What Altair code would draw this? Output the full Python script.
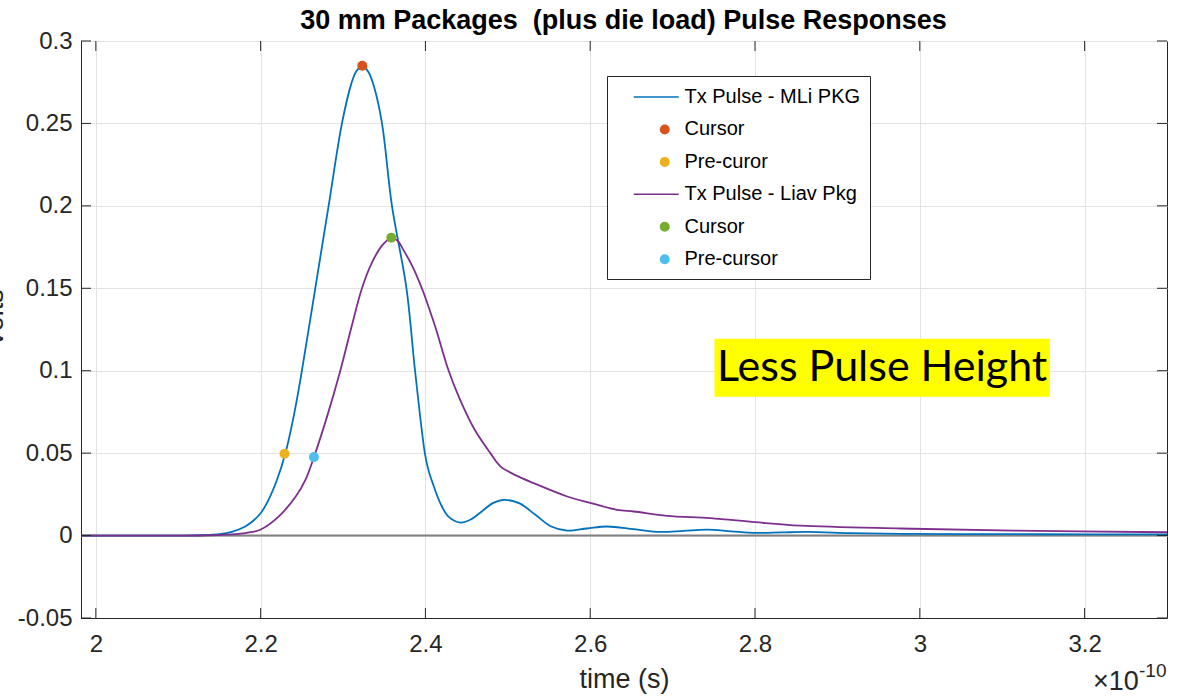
import altair as alt
import pandas as pd

# ---------------- data (time in units of 1e-10 s, volts) ----------------
time_mli = [1.982, 2.05, 2.10, 2.13, 2.15, 2.165, 2.1813, 2.19, 2.20, 2.2096,
            2.22, 2.2299, 2.24, 2.2501, 2.2663, 2.2825, 2.2987, 2.31, 2.316, 2.3234,
            2.331, 2.338, 2.3473, 2.3594, 2.377, 2.3874, 2.3993, 2.4035, 2.408, 2.418,
            2.428, 2.4424, 2.4556, 2.4687, 2.4818, 2.495, 2.5143, 2.5335, 2.5528, 2.572,
            2.596, 2.6205, 2.653, 2.6852, 2.7136, 2.742, 2.771, 2.8006, 2.832, 2.8634,
            2.916, 2.9767, 3.05, 3.15, 3.30]
volts_mli = [0, 0, 0, 0.0002, 0.0008, 0.0022, 0.0055, 0.0085, 0.0135, 0.0217,
             0.034, 0.0496, 0.072, 0.10, 0.15, 0.20, 0.25, 0.274, 0.2815, 0.285,
             0.281, 0.2716, 0.25, 0.20, 0.15, 0.10, 0.05, 0.040, 0.033, 0.0197,
             0.0115, 0.0079, 0.0099, 0.0148, 0.0197, 0.0217, 0.0195, 0.0126, 0.0055, 0.0030,
             0.0043, 0.0055, 0.0039, 0.0022, 0.0029, 0.0036, 0.0026, 0.0016, 0.0019, 0.0022,
             0.0015, 0.0010, 0.0009, 0.0008, 0.0007]

time_liav = [1.982, 2.05, 2.10, 2.14, 2.17, 2.19, 2.1995, 2.2218, 2.243, 2.2545,
             2.2647, 2.2805, 2.2967, 2.3095, 2.323, 2.3355, 2.3475, 2.3586, 2.366, 2.3736,
             2.3835, 2.3917, 2.398, 2.405, 2.413, 2.4282, 2.4424, 2.46, 2.4788, 2.491,
             2.51, 2.5314, 2.572, 2.601, 2.6327, 2.6528, 2.6934, 2.746, 2.8006, 2.8553,
             2.9767, 3.1139, 3.30]
volts_liav = [0, 0, 0, 0.0002, 0.0009, 0.0022, 0.0035, 0.0115, 0.024, 0.034,
              0.0476, 0.072, 0.10, 0.125, 0.15, 0.166, 0.176, 0.1806, 0.179, 0.173,
              0.164, 0.155, 0.147, 0.137, 0.125, 0.10, 0.082, 0.064, 0.05, 0.042,
              0.0365, 0.0318, 0.0237, 0.0197, 0.0156, 0.0146, 0.012, 0.0106, 0.0081, 0.006,
              0.0043, 0.003, 0.002]

marker_labels = ["Cursor", "Pre-curor", "Cursor ", "Pre-cursor"]
marker_time = [2.3234, 2.229, 2.3586, 2.2647]
marker_volts = [0.285, 0.0496, 0.1806, 0.0476]
marker_colors = ["#D95319", "#EDB120", "#77AC30", "#4DBEEE"]

LINE_SYM = "M-2,0H2"
DOT_SYM = "M1.135,0A0.38,0.38,0,1,1,0.375,0A0.38,0.38,0,1,1,1.135,0Z"
legend_labels = ["Tx Pulse - MLi PKG", "Cursor", "Pre-curor",
                 "Tx Pulse - Liav Pkg", "Cursor ", "Pre-cursor"]
legend_colors = ["#0072BD", "#D95319", "#EDB120", "#7E2F8E", "#77AC30", "#4DBEEE"]
legend_shapes = [LINE_SYM, DOT_SYM, DOT_SYM, LINE_SYM, DOT_SYM, DOT_SYM]

x_ticks = [2, 2.2, 2.4, 2.6, 2.8, 3, 3.2]
y_ticks = [-0.05, 0, 0.05, 0.1, 0.15, 0.2, 0.25, 0.3]

title_text = "30 mm Packages \u00a0(plus die load) Pulse Responses"
note_text = ["Less Pulse Height"]
note_x = [2.7508, 3.1578]
note_y = [0.0842, 0.1194]

# ---------------- layout ----------------
W, H = 1086, 577
FONT = "Liberation Sans"
INK = "#262626"

xs = alt.Scale(domain=[1.982, 3.3], nice=False, zero=False)
ys = alt.Scale(domain=[-0.05, 0.3], nice=False, zero=False)

x_axis = alt.Axis(values=x_ticks, labelExpr="datum.value + ''", title="time (s)",
                  grid=True, ticks=False, labelFlush=False, labelPadding=14,
                  titlePadding=10)
y_axis = alt.Axis(values=y_ticks, labelExpr="datum.value + ''", title="Volts",
                  grid=True, ticks=False, labelPadding=9, titleX=-73, titleY=277,
                  titleAngle=-90)

mli_df = pd.DataFrame({"t": time_mli, "v": volts_mli})
liav_df = pd.DataFrame({"t": time_liav, "v": volts_liav})
mark_df = pd.DataFrame({"t": marker_time, "v": marker_volts, "entry": marker_labels})
xt_df = pd.DataFrame({"t": x_ticks})
yt_df = pd.DataFrame({"v": y_ticks})
note_df = pd.DataFrame({"x1": [note_x[0]], "x2": [note_x[1]], "y1": [note_y[0]],
                        "y2": [note_y[1]], "label": note_text})
zero_df = pd.DataFrame({"v": [0]})
leg_df = pd.DataFrame({"entry": legend_labels})

line_mli = alt.Chart(mli_df).mark_line(color="#0072BD", strokeWidth=1.8,
                                       interpolate="catmull-rom").encode(
    x=alt.X("t:Q", scale=xs, axis=x_axis),
    y=alt.Y("v:Q", scale=ys, axis=y_axis),
)
line_liav = alt.Chart(liav_df).mark_line(color="#7E2F8E", strokeWidth=1.8,
                                         interpolate="catmull-rom").encode(
    x=alt.X("t:Q", scale=xs, axis=x_axis),
    y=alt.Y("v:Q", scale=ys, axis=y_axis),
)

zero_line = alt.Chart(zero_df).mark_rule(color="#808080", strokeWidth=2).encode(
    y=alt.Y("v:Q", scale=ys, axis=y_axis),
)

dots = alt.Chart(mark_df).mark_point(filled=True, size=100, opacity=1).encode(
    x=alt.X("t:Q", scale=xs, axis=x_axis),
    y=alt.Y("v:Q", scale=ys, axis=y_axis),
    color=alt.Color("entry:N", scale=alt.Scale(domain=marker_labels, range=marker_colors),
                    legend=None),
)

note_rect = alt.Chart(note_df).mark_rect(color="#FFFF00").encode(
    x=alt.X("x1:Q", scale=xs, axis=x_axis), x2="x2:Q",
    y=alt.Y("y1:Q", scale=ys, axis=y_axis), y2="y2:Q",
)
note_label = alt.Chart(note_df).mark_text(font="Lato", fontSize=43, color="black",
                                          align="center", baseline="middle").encode(
    x=alt.X("xc:Q", scale=xs, axis=x_axis),
    y=alt.Y("yc:Q", scale=ys, axis=y_axis),
    text="label:N",
).transform_calculate(xc="(datum.x1 + datum.x2) / 2", yc="(datum.y1 + datum.y2) / 2")

tick_kw = dict(color=INK, strokeWidth=1)
xt_bottom = alt.Chart(xt_df).mark_rule(**tick_kw).encode(
    x=alt.X("t:Q", scale=xs, axis=x_axis), y=alt.value(H), y2=alt.value(H - 10))
xt_top = alt.Chart(xt_df).mark_rule(**tick_kw).encode(
    x=alt.X("t:Q", scale=xs, axis=x_axis), y=alt.value(0), y2=alt.value(10))
yt_left = alt.Chart(yt_df).mark_rule(**tick_kw).encode(
    y=alt.Y("v:Q", scale=ys, axis=y_axis), x=alt.value(0), x2=alt.value(10))
yt_right = alt.Chart(yt_df).mark_rule(**tick_kw).encode(
    y=alt.Y("v:Q", scale=ys, axis=y_axis), x=alt.value(W - 10), x2=alt.value(W))

leg = alt.Legend(title=None, orient="none", legendX=526, legendY=35,
                 fillColor="white", strokeColor=INK, padding=9,
                 labelFont=FONT, labelFontSize=20, labelColor="black", labelLimit=400,
                 labelExpr="datum.label + '\u00a0\u00a0\u00a0\u00a0\u00a0\u00a0\u00a0'",
                 rowPadding=10.45, symbolOffset=28.25, labelOffset=16.25, symbolSize=506.25,
                 symbolStrokeWidth=1.5, symbolOpacity=1)
legend_layer = alt.Chart(leg_df).mark_point(filled=False, opacity=1).encode(
    stroke=alt.Stroke("entry:N", scale=alt.Scale(domain=legend_labels, range=legend_colors), legend=leg),
    fill=alt.Fill("entry:N", scale=alt.Scale(domain=legend_labels, range=legend_colors), legend=leg),
    shape=alt.Shape("entry:N", scale=alt.Scale(domain=legend_labels, range=legend_shapes), legend=leg),
).transform_filter("false")

title_mark = alt.Chart(zero_df).mark_text(font=FONT, fontSize=27, fontWeight="bold",
                                          color="black", align="center",
                                          baseline="alphabetic").encode(
    x=alt.value(W / 2 - 0.5), y=alt.value(-11.7), text=alt.value(title_text))
exp_main = alt.Chart(zero_df).mark_text(font=FONT, fontSize=27, color=INK,
                                        align="left", baseline="alphabetic").encode(
    x=alt.value(W - 74), y=alt.value(H + 72), text=alt.value("\u00d710"))
exp_sup = alt.Chart(zero_df).mark_text(font=FONT, fontSize=19, color=INK,
                                       align="left", baseline="alphabetic").encode(
    x=alt.value(W - 28), y=alt.value(H + 59), text=alt.value("-10"))

chart = alt.layer(
    note_rect, note_label, zero_line, line_mli, line_liav, dots,
    xt_bottom, xt_top, yt_left, yt_right, legend_layer,
    title_mark, exp_main, exp_sup,
).properties(
    width=W, height=H,
    padding={"left": 81, "top": 41, "right": 19, "bottom": 80},
    autosize=alt.AutoSizeParams(type="none"),
).configure(
    font=FONT,
).configure_view(
    stroke=INK, strokeWidth=1,
).configure_axis(
    labelFont=FONT, labelFontSize=24, labelColor=INK,
    titleFont=FONT, titleFontSize=27, titleColor=INK, titleFontWeight="normal",
    domainColor=INK, domainWidth=1, gridColor="#e3e3e3", gridWidth=1,
)

chart.save("out.html", embed_options={"renderer": "svg", "actions": False})
